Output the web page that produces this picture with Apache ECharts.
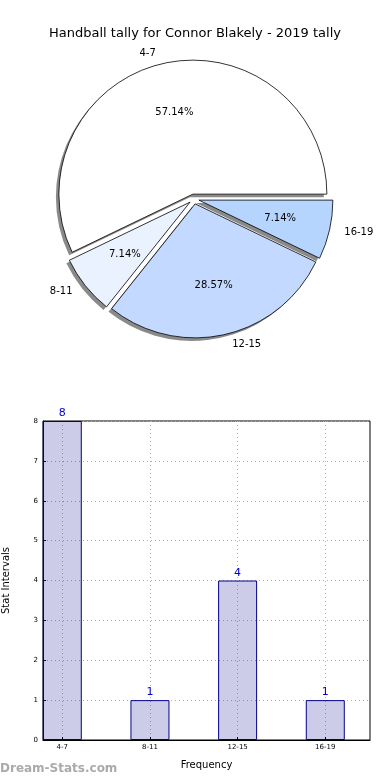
<!DOCTYPE html>
<html><head><meta charset="utf-8">
<script src="https://cdn.jsdelivr.net/npm/echarts@6/dist/echarts.min.js"></script>
<style>html,body{margin:0;padding:0;background:#fff}#c{width:390px;height:780px}</style>
</head><body><div id="c"></div>
<script>
const titleText = 'Handball tally for Connor Blakely - 2019 tally';
const categories = ['4-7', '8-11', '12-15', '16-19'];
const counts = [8, 1, 4, 1];
const sliceColors = ['#ffffff', '#ebf2ff', '#c4d9ff', '#b5d5ff'];
const yTicks = [0, 1, 2, 3, 4, 5, 6, 7, 8];
const xPositions = [0, 1, 2, 3];

const total = counts.reduce((a, b) => a + b, 0);
const font = 'DejaVu Sans';
const R = 134;
const C = [194, 199];
const gridLine = { type: [1, 3], color: '#b0b0b0', width: 1 };

const pieData = categories.map((c, i) => ({
  name: c, value: counts[i], selected: true,
  itemStyle: { color: sliceColors[i] }
}));

const chart = echarts.init(document.getElementById('c'), null, { renderer: 'canvas' });
chart.setOption({
  animation: false,
  textStyle: { fontFamily: font },
  title: {
    text: titleText, left: 'center', top: 22,
    textStyle: { fontFamily: font, fontSize: 13, fontWeight: 'normal', color: '#000' }
  },
  graphic: [{
    type: 'text', left: 0, top: 763,
    style: { text: 'Dream-Stats.com', fontFamily: font, fontSize: 12, fontWeight: 'bold', fill: '#aaaaaa' }
  }],
  grid: { left: 43, right: 20, top: 421, bottom: 40, show: true, borderColor: '#000', borderWidth: 1,
    containLabel: false, outerBoundsMode: 'none' },
  xAxis: {
    type: 'value', min: -0.22, max: 3.51,
    name: 'Frequency', nameLocation: 'middle', nameGap: 20,
    nameTextStyle: { fontFamily: font, fontSize: 10, color: '#000' },
    axisLine: { onZero: false, lineStyle: { color: '#000' } },
    axisTick: { show: true, customValues: xPositions, inside: true, length: 3, lineStyle: { color: '#000' } },
    axisLabel: { customValues: xPositions, fontFamily: font, fontSize: 7, color: '#000', margin: 4,
      formatter: v => categories[Math.round(v)] },
    splitLine: { show: true, lineStyle: gridLine }
  },
  yAxis: {
    type: 'value', min: 0, max: 8, interval: 1,
    name: 'Stat Intervals', nameLocation: 'middle', nameGap: 32, nameRotate: 90,
    nameTextStyle: { fontFamily: font, fontSize: 10, color: '#000' },
    axisLine: { show: true, onZero: false, lineStyle: { color: '#000' } },
    axisTick: { show: true, inside: true, length: 3, lineStyle: { color: '#000' } },
    axisLabel: { fontFamily: font, fontSize: 7, color: '#000', margin: 5,
      formatter: v => yTicks.includes(v) ? String(v) : '' },
    splitLine: { show: true, lineStyle: gridLine }
  },
  series: [
    {
      type: 'pie', center: [C[0] - 3, C[1] + 3], radius: [0, R], startAngle: 0, clockwise: false,
      selectedMode: 'multiple', selectedOffset: 5, silent: true, z: 1,
      data: pieData.map(d => ({ name: d.name, value: d.value, selected: true,
        itemStyle: { color: '#8a8a8a' } })),
      itemStyle: { borderWidth: 0 },
      label: { show: false }, labelLine: { show: false },
      emphasis: { disabled: true }
    },
    {
      type: 'pie', center: C, radius: [0, R], startAngle: 0, clockwise: false,
      selectedMode: 'multiple', selectedOffset: 5, silent: true, z: 2,
      data: pieData,
      itemStyle: { borderColor: '#000', borderWidth: 0.8 },
      label: { show: true, position: 'outside', fontFamily: font, fontSize: 10, color: '#000',
        formatter: p => p.name },
      labelLine: { show: false, length: 10, length2: 0 },
      emphasis: { disabled: true }
    },
    {
      type: 'pie', center: C, radius: [0, R * 1.2], startAngle: 0, clockwise: false,
      selectedMode: 'multiple', selectedOffset: 5, silent: true, z: 5,
      data: pieData.map(d => ({ name: d.name, value: d.value, selected: true,
        itemStyle: { color: 'rgba(0,0,0,0)' } })),
      itemStyle: { borderWidth: 0 },
      label: { show: true, position: 'inner', fontFamily: font, fontSize: 10, color: '#000',
        formatter: p => (p.value / total * 100).toFixed(2) + '%' },
      labelLine: { show: false },
      emphasis: { disabled: true }
    },
    {
      type: 'bar', data: xPositions.map((x, i) => [x, counts[i]]), barWidth: 39,
      itemStyle: { color: 'rgba(0,0,139,0.2)', borderColor: '#00008b', borderWidth: 1 },
      label: { show: true, position: 'top', distance: 2, fontFamily: font, fontSize: 11, color: '#0000cd' },
      z: 1
    }
  ]
});
</script></body></html>
